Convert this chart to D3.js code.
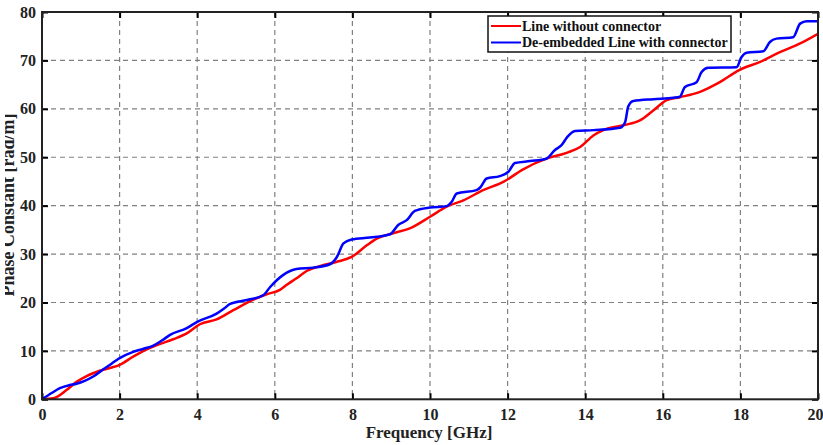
<!DOCTYPE html>
<html>
<head>
<meta charset="utf-8">
<script src="https://cdn.jsdelivr.net/npm/d3@7"></script>
<style>
  html, body { margin: 0; padding: 0; background: #fff; }
  svg { display: block; }
</style>
</head>
<body>
<svg id="chart" width="823" height="445"></svg>
<script>
// ---- data ----
const xTicks = [0, 2, 4, 6, 8, 10, 12, 14, 16, 18, 20];
const yTicks = [0, 10, 20, 30, 40, 50, 60, 70, 80];
const seriesNames = ["Line without connector", "De-embedded Line with connector"];
const seriesColors = ["#ff0000", "#0000ff"];

const redFreq = [0, 0.29, 0.63, 0.89, 1.15, 1.49, 2.0, 2.35, 2.7, 2.96, 3.38, 3.73, 4.07, 4.5, 4.93, 5.45, 5.79, 6.13, 6.3, 6.56, 6.82, 7.16, 7.6, 7.98, 8.37, 8.63, 9.05, 9.48, 10.0, 10.43, 10.86, 11.37, 11.89, 12.4, 13.0, 13.52, 13.87, 14.21, 14.47, 14.98, 15.41, 15.76, 16.1, 16.44, 16.96, 17.47, 17.97, 18.51, 19.02, 19.54, 20.0];
const redVal  = [0, 0.2, 1.9, 3.6, 4.8, 5.9, 7.1, 8.8, 10.3, 11.2, 12.4, 13.6, 15.5, 16.5, 18.4, 20.6, 21.7, 22.6, 23.6, 25.0, 26.5, 27.5, 28.4, 29.4, 31.8, 33.2, 34.3, 35.3, 37.7, 39.8, 41.1, 43.2, 44.9, 47.5, 49.7, 50.9, 52.1, 54.5, 55.6, 56.6, 57.6, 59.7, 61.8, 62.4, 63.5, 65.5, 68.0, 69.7, 71.7, 73.5, 75.5];

const blueFreq = [0, 0.25, 0.46, 0.7, 0.89, 1.1, 1.32, 1.58, 1.8, 2.0, 2.35, 2.6, 2.87, 3.1, 3.3, 3.73, 4.0, 4.5, 4.7, 4.85, 5.28, 5.7, 5.88, 6.22, 6.56, 6.99, 7.42, 7.6, 7.77, 7.98, 8.45, 8.97, 9.18, 9.4, 9.61, 10.0, 10.43, 10.56, 10.69, 11.2, 11.3, 11.46, 11.8, 12.02, 12.19, 12.58, 13.0, 13.22, 13.39, 13.54, 13.74, 14.21, 14.9, 15.03, 15.11, 15.24, 15.76, 16.27, 16.44, 16.57, 16.87, 17.0, 17.17, 17.9, 18.03, 18.16, 18.59, 18.76, 18.93, 19.36, 19.54, 19.71, 20.0];
const blueVal  = [0, 1.3, 2.3, 2.9, 3.2, 3.8, 4.7, 6.2, 7.4, 8.5, 9.8, 10.4, 11.1, 12.2, 13.3, 14.7, 16.0, 17.7, 18.8, 19.7, 20.5, 21.5, 23.2, 25.7, 26.9, 27.2, 27.9, 29.4, 32.2, 33.0, 33.4, 34.1, 36.0, 37.0, 38.9, 39.6, 39.9, 40.8, 42.5, 43.2, 43.8, 45.6, 46.1, 47.0, 48.8, 49.2, 49.7, 51.5, 52.5, 54.2, 55.4, 55.6, 56.1, 57.3, 60.5, 61.6, 62.0, 62.3, 62.5, 64.5, 65.5, 67.6, 68.5, 68.6, 70.7, 71.6, 71.9, 73.8, 74.5, 74.8, 77.6, 78.1, 78.1];

// ---- layout ----
const svg = d3.select("#chart");
const pL = 42, pT = 12, pR = 818, pB = 399.3;
const x = d3.scaleLinear().domain([0, 20]).range([pL, pR]);
const y = d3.scaleLinear().domain([0, 80]).range([pB, pT]);
const font = "'Liberation Serif', 'Times New Roman', serif";

// grid
const grid = svg.append("g");
grid.selectAll("line.vg").data(xTicks.filter(d => d > 0 && d < 20)).enter().append("line")
  .attr("x1", d => x(d)).attr("x2", d => x(d)).attr("y1", pT).attr("y2", pB)
  .attr("stroke", "#808080").attr("stroke-width", 1.2).attr("stroke-dasharray", "5,4");
grid.selectAll("line.hg").data(yTicks.filter(d => d > 0 && d < 80)).enter().append("line")
  .attr("x1", pL).attr("x2", pR).attr("y1", d => y(d)).attr("y2", d => y(d))
  .attr("stroke", "#808080").attr("stroke-width", 1.2).attr("stroke-dasharray", "5,4");

const defs = svg.append("defs");
defs.append("clipPath").attr("id", "plotclip")
  .append("rect").attr("x", pL).attr("y", pT).attr("width", pR - pL).attr("height", pB - pT);

const line = d3.line().x(d => x(d[0])).y(d => y(d[1])).curve(d3.curveMonotoneX);
const redData = redFreq.map((f, i) => [f, redVal[i]]);
const blueData = blueFreq.map((f, i) => [f, blueVal[i]]);

const plot = svg.append("g").attr("clip-path", "url(#plotclip)");
plot.append("path").datum(redData).attr("d", line)
  .attr("fill", "none").attr("stroke", seriesColors[0]).attr("stroke-width", 2.5);
plot.append("path").datum(blueData).attr("d", line)
  .attr("fill", "none").attr("stroke", seriesColors[1]).attr("stroke-width", 2.5);

// axes (ticks inward on all sides)
function styleAxis(g) {
  g.select(".domain").remove();
  g.selectAll(".tick line").attr("stroke", "#000").attr("stroke-width", 2);
  g.selectAll(".tick text").attr("font-family", font).attr("font-weight", "bold")
    .attr("font-size", 16).attr("fill", "#222");
}
const xAxis = svg.append("g").attr("transform", `translate(0,${pB})`)
  .call(d3.axisBottom(x).tickValues(xTicks).tickSizeInner(-6).tickSizeOuter(0).tickPadding(9));
styleAxis(xAxis);
// keep the last label inside the picture, as in the reference
xAxis.selectAll(".tick text").filter(d => d === 20).attr("text-anchor", "end").attr("dx", 5);
const xAxisTop = svg.append("g").attr("transform", `translate(0,${pT})`)
  .call(d3.axisTop(x).tickValues(xTicks).tickSizeInner(-6).tickSizeOuter(0).tickFormat(""));
styleAxis(xAxisTop);
const yAxis = svg.append("g").attr("transform", `translate(${pL},0)`)
  .call(d3.axisLeft(y).tickValues(yTicks).tickSizeInner(-6).tickSizeOuter(0).tickPadding(6));
styleAxis(yAxis);
const yAxisRight = svg.append("g").attr("transform", `translate(${pR},0)`)
  .call(d3.axisRight(y).tickValues(yTicks).tickSizeInner(-6).tickSizeOuter(0).tickFormat(""));
styleAxis(yAxisRight);

// frame
svg.append("rect").attr("x", pL).attr("y", pT).attr("width", pR - pL).attr("height", pB - pT)
  .attr("fill", "none").attr("stroke", "#222").attr("stroke-width", 2);

// axis titles
svg.append("text").attr("x", 429).attr("y", 438).attr("text-anchor", "middle")
  .attr("font-family", font).attr("font-weight", "bold").attr("font-size", 17).attr("fill", "#222")
  .text("Frequency [GHz]");

defs.append("clipPath").attr("id", "ylabclip")
  .append("rect").attr("x", 5).attr("y", 0).attr("width", 30).attr("height", 445);
svg.append("g").attr("clip-path", "url(#ylabclip)")
  .append("text").attr("transform", "translate(14,205) rotate(-90)").attr("text-anchor", "middle")
  .attr("font-family", font).attr("font-weight", "bold").attr("font-size", 18).attr("fill", "#222")
  .text("Phase Constant [rad/m]");

// legend
const lg = svg.append("g");
lg.append("rect").attr("x", 488).attr("y", 16).attr("width", 243).attr("height", 36)
  .attr("fill", "#fff").attr("stroke", "#111").attr("stroke-width", 1.5);
seriesNames.forEach((name, i) => {
  const yy = 26 + i * 16.5;
  lg.append("line").attr("x1", 491).attr("x2", 521).attr("y1", yy).attr("y2", yy)
    .attr("stroke", seriesColors[i]).attr("stroke-width", 2);
  lg.append("text").attr("x", 522).attr("y", yy + 4.5)
    .attr("font-family", font).attr("font-weight", "bold").attr("font-size", 14).attr("fill", "#111")
    .text(name);
});
</script>
</body>
</html>
